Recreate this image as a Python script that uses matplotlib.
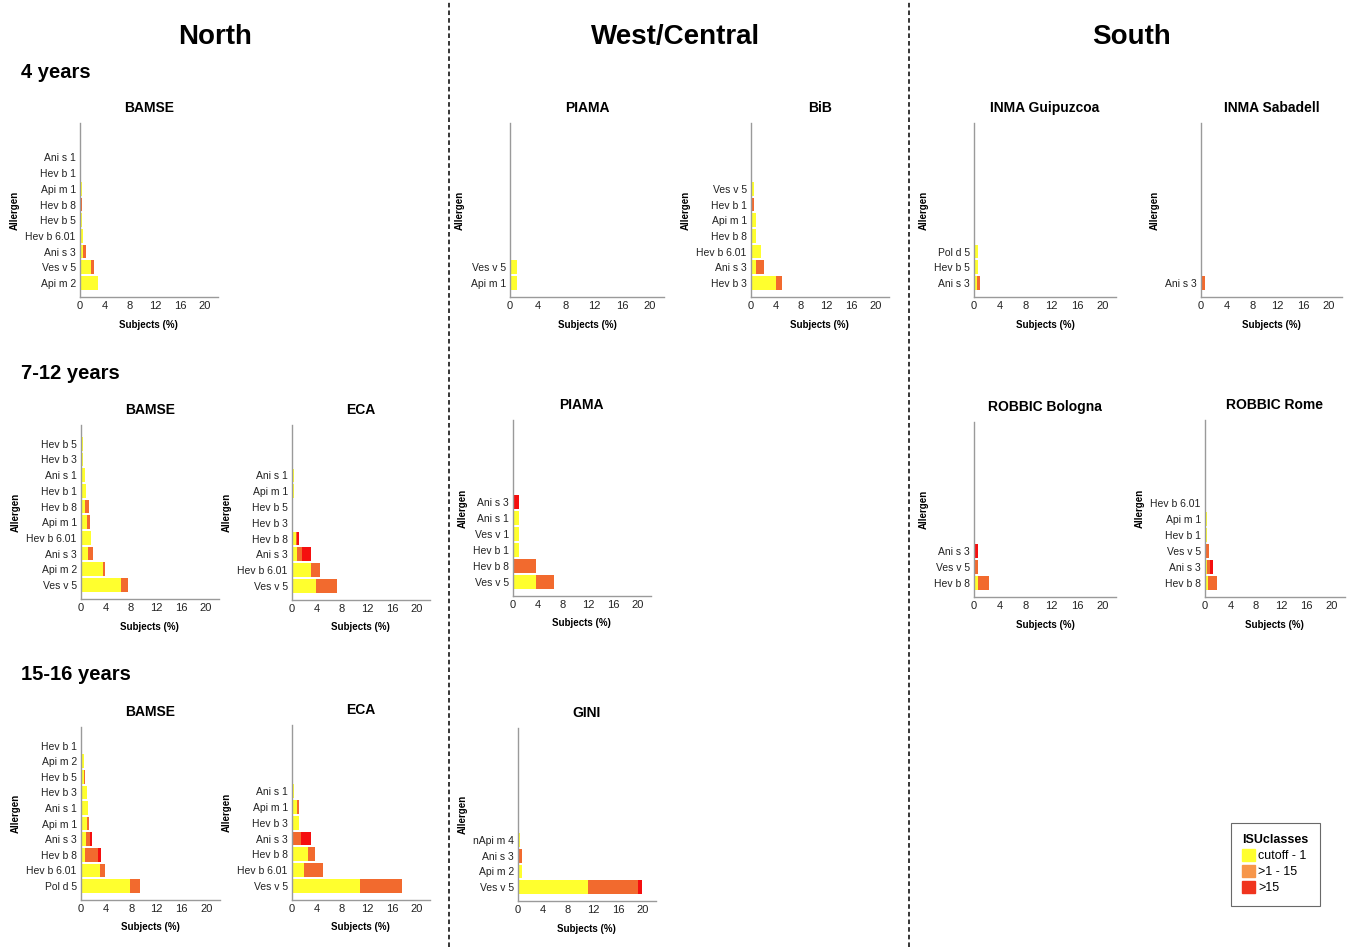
import numpy as np
import matplotlib
matplotlib.use("Agg")
import matplotlib.pyplot as plt
from matplotlib.lines import Line2D
from matplotlib.patches import Patch

plt.rcParams['font.family'] = ['Liberation Sans', 'DejaVu Sans']

# ---- data: % subjects per ISU class (cutoff-1, >1-15, >15), listed top to bottom ----
# North, 4 years
bamse4_labels = ["Ani s 1", "Hev b 1", "Api m 1", "Hev b 8", "Hev b 5", "Hev b 6.01", "Ani s 3", "Ves v 5", "Api m 2"]
bamse4_low = [0.1, 0.15, 0.25, 0.1, 0.3, 0.5, 0.4, 1.7, 2.9]
bamse4_mid = [0, 0, 0, 0.25, 0, 0, 0.5, 0.5, 0]
bamse4_high = [0, 0, 0, 0, 0, 0, 0, 0, 0]

# North, 7-12 years
bamse12_labels = ["Hev b 5", "Hev b 3", "Ani s 1", "Hev b 1", "Hev b 8", "Api m 1", "Hev b 6.01", "Ani s 3", "Api m 2", "Ves v 5"]
bamse12_low = [0.27, 0.35, 0.7, 0.8, 0.65, 1.0, 1.55, 1.05, 3.5, 6.4]
bamse12_mid = [0, 0, 0, 0, 0.6, 0.5, 0, 0.8, 0.4, 1.1]
bamse12_high = [0, 0, 0, 0, 0, 0, 0, 0, 0, 0]

eca12_labels = ["Ani s 1", "Api m 1", "Hev b 5", "Hev b 3", "Hev b 8", "Ani s 3", "Hev b 6.01", "Ves v 5"]
eca12_low = [0.25, 0.25, 0.2, 0.2, 0.65, 0.8, 3.0, 3.8]
eca12_mid = [0, 0, 0, 0, 0.2, 0.75, 1.5, 3.35]
eca12_high = [0, 0, 0, 0, 0.2, 1.45, 0, 0]

# North, 15-16 years
bamse16_labels = ["Hev b 1", "Api m 2", "Hev b 5", "Hev b 3", "Ani s 1", "Api m 1", "Ani s 3", "Hev b 8", "Hev b 6.01", "Pol d 5"]
bamse16_low = [0.2, 0.4, 0.4, 0.95, 1.15, 0.9, 0.8, 0.7, 3.05, 7.85]
bamse16_mid = [0, 0, 0.2, 0, 0, 0.4, 0.6, 2.0, 0.75, 1.55]
bamse16_high = [0, 0, 0, 0, 0, 0, 0.3, 0.4, 0, 0]

eca16_labels = ["Ani s 1", "Api m 1", "Hev b 3", "Ani s 3", "Hev b 8", "Hev b 6.01", "Ves v 5"]
eca16_low = [0.37, 0.75, 1.18, 0, 2.57, 1.93, 10.8]
eca16_mid = [0, 0.43, 0, 1.5, 1.18, 3.0, 6.75]
eca16_high = [0, 0, 0, 1.5, 0, 0, 0]

# West/Central
piama4_labels = ["Ves v 5", "Api m 1"]
piama4_low = [1.0, 1.0]
piama4_mid = [0, 0]
piama4_high = [0, 0]

bib4_labels = ["Ves v 5", "Hev b 1", "Api m 1", "Hev b 8", "Hev b 6.01", "Ani s 3", "Hev b 3"]
bib4_low = [0.5, 0.1, 0.8, 0.8, 1.65, 0.8, 4.05]
bib4_mid = [0, 0.35, 0, 0, 0, 1.2, 0.85]
bib4_high = [0, 0, 0, 0, 0, 0, 0]

piama12_labels = ["Ani s 3", "Ani s 1", "Ves v 1", "Hev b 1", "Hev b 8", "Ves v 5"]
piama12_low = [0, 0.9, 0.9, 0.9, 0, 3.7]
piama12_mid = [0, 0, 0, 0, 3.7, 2.8]
piama12_high = [0.9, 0, 0, 0, 0, 0]

gini16_labels = ["nApi m 4", "Ani s 3", "Api m 2", "Ves v 5"]
gini16_low = [0.37, 0, 0.6, 11.2]
gini16_mid = [0, 0.64, 0, 8.0]
gini16_high = [0, 0, 0, 0.6]

# South
guip4_labels = ["Pol d 5", "Hev b 5", "Ani s 3"]
guip4_low = [0.55, 0.55, 0.5]
guip4_mid = [0, 0, 0.5]
guip4_high = [0, 0, 0]

saba4_labels = ["Ani s 3"]
saba4_low = [0.2]
saba4_mid = [0.4]
saba4_high = [0]

bolo12_labels = ["Ani s 3", "Ves v 5", "Hev b 8"]
bolo12_low = [0, 0, 0.6]
bolo12_mid = [0, 0.6, 1.7]
bolo12_high = [0.6, 0, 0]

rome12_labels = ["Hev b 6.01", "Api m 1", "Hev b 1", "Ves v 5", "Ani s 3", "Hev b 8"]
rome12_low = [0.2, 0.37, 0.37, 0.2, 0.25, 0.45]
rome12_mid = [0, 0, 0, 0.5, 0.55, 1.5]
rome12_high = [0, 0, 0, 0, 0.4, 0]

class_names = ["cutoff - 1", ">1 - 15", ">15"]
regions = ["North", "West/Central", "South"]
ages = ["4 years", "7-12 years", "15-16 years"]

# ---- style ----
C_LOW, C_MID, C_HIGH = "#FFFF2E", "#F26A2E", "#F50F0F"
SPINE = "#9a9a9a"
W, H = 1348, 947


def panel(fig, box, title, labels, low, mid, high):
    # box: x of y-axis, x of tick "20", top, bottom (pixels)
    x0, x20, top, bottom = box
    ppu = (x20 - x0) / 20.0
    ax = fig.add_axes([x0 / W, 1 - bottom / H, 22 * ppu / W, (bottom - top) / H])
    low, mid, high = np.asarray(low), np.asarray(mid), np.asarray(high)
    y = np.arange(len(labels))[::-1]
    ax.barh(y, low, height=0.88, color=C_LOW, linewidth=0)
    ax.barh(y, mid, left=low, height=0.88, color=C_MID, linewidth=0)
    ax.barh(y, high, left=low + mid, height=0.88, color=C_HIGH, linewidth=0)
    ax.set_yticks(y)
    ax.set_yticklabels(labels)
    ax.set_xlim(0, 22)
    ax.set_xticks([0, 4, 8, 12, 16, 20])
    ax.set_ylim(-0.9, 10.2)
    ax.tick_params(length=0, labelsize=7.5, pad=3, colors="#222222")
    ax.tick_params(axis="x", labelsize=8)
    for s in ["top", "right"]:
        ax.spines[s].set_visible(False)
    for s in ["left", "bottom"]:
        ax.spines[s].set_color(SPINE)
        ax.spines[s].set_linewidth(1.0)
    ax.set_title(title, fontsize=10, fontweight="bold", pad=8)
    ax.set_xlabel("Subjects (%)", fontsize=7, fontweight="bold", labelpad=6)
    ax.set_ylabel("Allergen", fontsize=7, fontweight="bold", labelpad=4)
    return ax


fig = plt.figure(figsize=(13.48, 9.47), dpi=100)

panel(fig, (80, 205, 123, 297), "BAMSE", bamse4_labels, bamse4_low, bamse4_mid, bamse4_high)
panel(fig, (81, 206, 425, 599), "BAMSE", bamse12_labels, bamse12_low, bamse12_mid, bamse12_high)
panel(fig, (292, 417, 425, 600), "ECA", eca12_labels, eca12_low, eca12_mid, eca12_high)
panel(fig, (81, 207, 727, 900), "BAMSE", bamse16_labels, bamse16_low, bamse16_mid, bamse16_high)
panel(fig, (292, 417, 725, 900), "ECA", eca16_labels, eca16_low, eca16_mid, eca16_high)

panel(fig, (510, 650, 123, 297), "PIAMA", piama4_labels, piama4_low, piama4_mid, piama4_high)
panel(fig, (751, 876, 123, 297), "BiB", bib4_labels, bib4_low, bib4_mid, bib4_high)
panel(fig, (513, 638, 420, 596), "PIAMA", piama12_labels, piama12_low, piama12_mid, piama12_high)
panel(fig, (518, 643, 728, 901), "GINI", gini16_labels, gini16_low, gini16_mid, gini16_high)

panel(fig, (974, 1103, 123, 297), "INMA Guipuzcoa", guip4_labels, guip4_low, guip4_mid, guip4_high)
panel(fig, (1201, 1329, 123, 297), "INMA Sabadell", saba4_labels, saba4_low, saba4_mid, saba4_high)
panel(fig, (974, 1103, 422, 597), "ROBBIC Bologna", bolo12_labels, bolo12_low, bolo12_mid, bolo12_high)
panel(fig, (1205, 1332, 420, 597), "ROBBIC Rome", rome12_labels, rome12_low, rome12_mid, rome12_high)

# region headers and age labels
for name, xc in zip(regions, [215, 676, 1132]):
    fig.text(xc / W, 1 - 37 / H, name, ha="center", va="center", fontsize=20, fontweight="bold")
for name, yc in zip(ages, [72, 373, 674]):
    fig.text(21 / W, 1 - yc / H, name, ha="left", va="center", fontsize=14.5, fontweight="bold")

# dashed separators
for xs in [449, 909]:
    fig.add_artist(Line2D([xs / W, xs / W], [0, 1], color="black", lw=1.1,
                          linestyle=(0, (3, 2)), transform=fig.transFigure))

handles = [Patch(color=c) for c in [C_LOW, "#F7964A", "#F0341E"]]
leg = fig.legend(handles, class_names, title="ISUclasses", loc="upper left",
                 bbox_to_anchor=(1231 / W, 1 - 823 / H), borderaxespad=0, fontsize=9,
                 title_fontproperties={"weight": "bold", "size": 9},
                 frameon=True, fancybox=False, edgecolor="#444444",
                 handlelength=1.0, handleheight=1.0, handletextpad=0.3,
                 labelspacing=0.25, borderpad=0.9, alignment="left")
leg.get_frame().set_linewidth(0.8)

fig.savefig("out.png", dpi=100)
